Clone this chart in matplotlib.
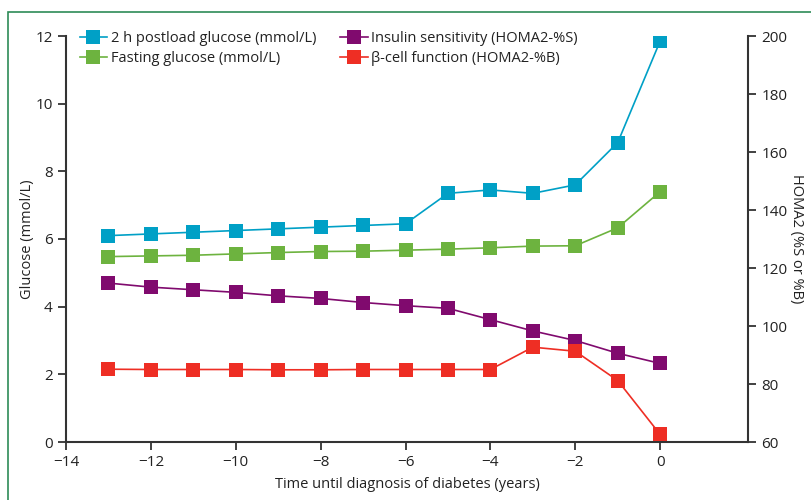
import matplotlib.pyplot as plt
from matplotlib.patches import Rectangle

plt.rcParams['font.family'] = ['Open Sans', 'DejaVu Sans']

years = [-13, -12, -11, -10, -9, -8, -7, -6, -5, -4, -3, -2, -1, 0]

# glucose, left axis (mmol/L)
postload = [6.1, 6.15, 6.2, 6.25, 6.3, 6.35, 6.4, 6.45, 7.35, 7.45, 7.35, 7.6, 8.85, 11.85]
fasting = [5.48, 5.5, 5.52, 5.56, 5.6, 5.63, 5.64, 5.67, 5.7, 5.74, 5.79, 5.8, 6.33, 7.4]

# HOMA2, right axis
insulin_s = [114.8, 113.4, 112.5, 111.6, 110.4, 109.5, 108.1, 107.0, 106.1, 102.2, 98.3, 95.0, 90.6, 87.1]
beta_cell = [85.1, 85.0, 85.0, 85.0, 84.9, 84.9, 85.0, 85.0, 85.0, 85.0, 92.7, 91.3, 81.2, 62.6]

c_blue = '#00a0c6'
c_green = '#6db33f'
c_purple = '#800a6e'
c_red = '#ee2e24'
spine_col = '#333333'

fig = plt.figure(figsize=(8.11, 5.0), dpi=100)
ax = fig.add_axes([66 / 811, 58 / 500, (748 - 66) / 811, (442 - 36) / 500])
ax2 = ax.twinx()

ms = 9.5
h1, = ax.plot(years, postload, color=c_blue, lw=1.2, marker='s', ms=ms, mew=0,
              label='2 h postload glucose (mmol/L)')
h2, = ax.plot(years, fasting, color=c_green, lw=1.2, marker='s', ms=ms, mew=0,
              label='Fasting glucose (mmol/L)')
h3, = ax2.plot(years, insulin_s, color=c_purple, lw=1.2, marker='s', ms=ms, mew=0,
               label='Insulin sensitivity (HOMA2-%S)')
h4, = ax2.plot(years, beta_cell, color=c_red, lw=1.2, marker='s', ms=ms, mew=0,
               label='β-cell function (HOMA2-%B)')

ax.set_xlim(-14, 2.07)
ax.set_ylim(0, 12)
ax2.set_ylim(60, 200)
ax.set_xticks(range(-14, 1, 2))
ax.set_xticklabels(['\u221214', '\u221212', '\u221210', '\u22128', '\u22126', '\u22124', '\u22122', '0'])
ax.set_yticks(range(0, 13, 2))
ax2.set_yticks(range(60, 201, 20))

for a in (ax, ax2):
    a.spines['top'].set_visible(False)
    for s in ('left', 'right', 'bottom'):
        a.spines[s].set_color(spine_col)
        a.spines[s].set_linewidth(1.5)
    a.tick_params(direction='out', length=6, width=1.3, color=spine_col,
                  labelsize=11, labelcolor='#222222')
ax.spines['right'].set_visible(False)
ax2.spines['left'].set_visible(False)
ax2.spines['bottom'].set_visible(False)

ax.set_xlabel('Time until diagnosis of diabetes (years)', fontsize=10.5, color='#222222', labelpad=5)
ax.set_ylabel('Glucose (mmol/L)', fontsize=10.5, color='#222222', labelpad=0)
ax2.set_ylabel('HOMA2 (%S or %B)', fontsize=10.5, color='#222222', rotation=-90, labelpad=12)

leg = ax.legend(handles=[h1, h2, h3, h4], ncol=2, frameon=False, loc='upper left',
                bbox_to_anchor=(0.02, 1.013), fontsize=10.5, handlelength=1.9,
                handletextpad=0.25, columnspacing=1.6, labelspacing=0.35, borderpad=0,
                borderaxespad=0)
for t in leg.get_texts():
    t.set_color('#222222')

fig.patches.append(Rectangle((8 / 811, -0.1), 1.2, 1.1 - 12 / 500,
                             transform=fig.transFigure, fill=False,
                             edgecolor='#2e8b57', lw=1.2))

fig.savefig('out.png', dpi=100)
